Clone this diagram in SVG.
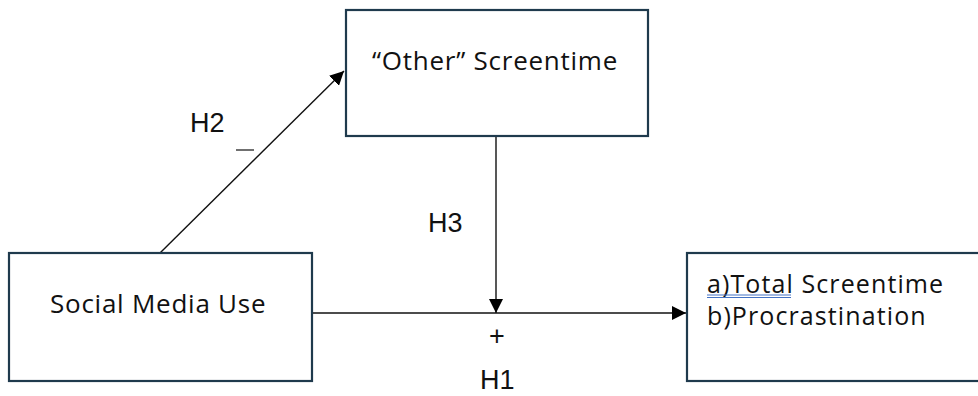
<svg xmlns="http://www.w3.org/2000/svg" width="978" height="396" viewBox="0 0 978 396">
  <defs>
    <marker id="arr" viewBox="0 0 10 10" refX="10" refY="5" markerWidth="14" markerHeight="14" markerUnits="userSpaceOnUse" orient="auto">
      <path d="M0,0 L10,5 L0,10 z" fill="#000"/>
    </marker>
    <style>
      .box { fill: #fff; stroke: #1f3a4d; stroke-width: 2.2; }
      .t { font-family: "Open Sans", "Liberation Sans", sans-serif; font-size: 26px; letter-spacing: 0.75px; fill: #111; }
      .t2 { font-family: "Open Sans", "Liberation Sans", sans-serif; font-size: 25px; letter-spacing: 1.1px; fill: #111; }
      .lab { font-family: "Liberation Sans", sans-serif; font-size: 27px; fill: #111; }
      .conn { stroke: #111; stroke-width: 1.4; fill: none; }
    </style>
  </defs>
  <rect width="978" height="396" fill="#fff"/>
  <g id="connectors">
    <line class="conn" x1="160" y1="253" x2="344" y2="71" marker-end="url(#arr)"/>
    <line class="conn" x1="496" y1="136" x2="496" y2="313" marker-end="url(#arr)"/>
    <line class="conn" x1="312" y1="313" x2="686" y2="313" marker-end="url(#arr)"/>
  </g>
  <g id="other-screentime">
    <rect class="box" x="346" y="10" width="302" height="126"/>
    <text class="t" x="372" y="70">“Other” Screentime</text>
  </g>
  <g id="social-media-use">
    <rect class="box" x="9" y="253" width="303" height="128"/>
    <text class="t" x="50" y="313">Social Media Use</text>
  </g>
  <g id="outcomes">
    <rect class="box" x="687" y="253" width="300" height="128"/>
    <text class="t2" x="707" y="293">a)Total Screentime</text>
    <text class="t2" x="707" y="325">b)Procrastination</text>
    <line x1="707" y1="295" x2="791" y2="295" stroke="#4472c4" stroke-width="1"/>
    <line x1="707" y1="297.5" x2="791" y2="297.5" stroke="#4472c4" stroke-width="1"/>
  </g>
  <g id="labels">
    <text class="lab" x="190" y="132">H2</text>
    <line x1="236" y1="150" x2="254" y2="150" stroke="#111" stroke-width="1.2"/>
    <text class="lab" x="428" y="232">H3</text>
    <text x="497" y="345" text-anchor="middle" font-family="Liberation Sans, sans-serif" font-size="27" fill="#111">+</text>
    <text class="lab" x="480" y="389" font-size="26">H1</text>
  </g>
</svg>
